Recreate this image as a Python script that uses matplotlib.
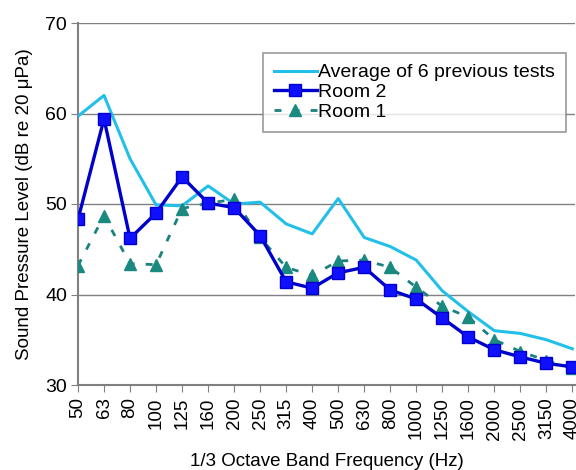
import matplotlib
matplotlib.use("Agg")
import matplotlib.pyplot as plt
import numpy as np

plt.rcParams['font.family'] = ['Liberation Sans', 'DejaVu Sans']

freqs = ["50", "63", "80", "100", "125", "160", "200", "250", "315", "400",
         "500", "630", "800", "1000", "1250", "1600", "2000", "2500", "3150", "4000"]
average = [59.7, 62.0, 55.0, 49.9, 49.8, 52.0, 50.0, 50.2, 47.8, 46.7,
           50.6, 46.3, 45.3, 43.8, 40.4, 38.1, 36.0, 35.7, 35.0, 34.0]
room2 = [48.3, 59.4, 46.2, 49.0, 53.0, 50.1, 49.6, 46.5, 41.4, 40.7,
         42.4, 43.0, 40.5, 39.5, 37.4, 35.3, 33.9, 33.1, 32.4, 32.0]
room1 = [43.2, 48.7, 43.4, 43.3, 49.5, 50.1, 50.5, 46.3, 43.0, 42.1,
         43.7, 43.8, 43.0, 40.8, 38.7, 37.5, 35.0, 33.7, 32.7, 31.9]

fig = plt.figure(figsize=(5.76, 4.70), dpi=100)
ax = fig.add_axes([78 / 576, 1 - 385 / 470, 497 / 576, 362 / 470])

x = np.arange(len(freqs))
ax.plot(x, average, color="#22c0e8", lw=2.2, label="Average of 6 previous tests", zorder=3)
ax.plot(x, room2, color="#0000cc", lw=2.4, marker="s", ms=8.5, mfc="#1010ff",
        mec="#0000cc", label="Room 2", zorder=5)
ax.plot(x, room1, color="#1a8080", lw=2, ls=(0, (2.5, 4)), marker="^", ms=8.5,
        mfc="#1a8a80", mec="#1a8a80", label="Room 1", zorder=4)

ax.set_xlim(0, 19.1)
ax.set_ylim(30, 70)
ax.set_yticks([30, 40, 50, 60, 70])
ax.set_xticks(x)
ax.set_xticklabels(freqs, rotation=90, fontsize=13.5)
ax.tick_params(axis="y", labelsize=14, direction="out", length=5, color="#808080", pad=3)
ax.tick_params(axis="x", direction="out", length=5, color="#808080", pad=4)
ax.yaxis.grid(True, color="#808080", lw=1)
ax.set_axisbelow(True)

for side in ["top", "right"]:
    ax.spines[side].set_visible(False)
for side in ["left", "bottom"]:
    ax.spines[side].set_color("#808080")
    ax.spines[side].set_linewidth(1.5)

ax.set_ylabel("Sound Pressure Level (dB re 20 \u03bcPa)", fontsize=13.5, labelpad=9)
ax.set_xlabel("1/3 Octave Band Frequency (Hz)", fontsize=13.5, labelpad=10)

leg = ax.legend(loc="upper right", bbox_to_anchor=(0.982, 0.917), fontsize=14,
                frameon=True, fancybox=False, edgecolor="#808080",
                handlelength=2.2, handletextpad=0.1, borderpad=0.55,
                labelspacing=0.12, borderaxespad=0)
leg.get_frame().set_linewidth(1.2)

fig.savefig("out.png", dpi=100)
